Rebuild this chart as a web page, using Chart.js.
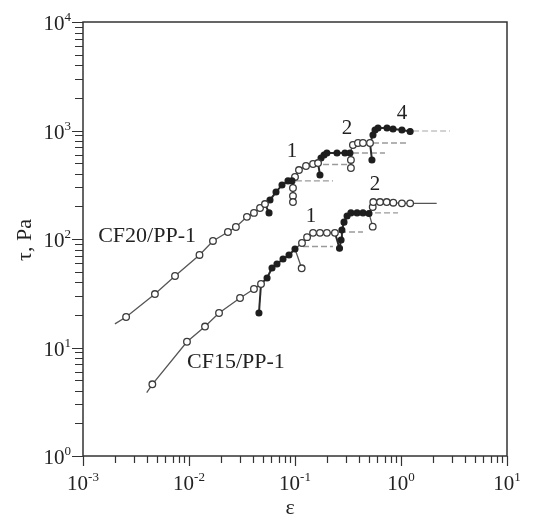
<!DOCTYPE html>
<html>
<head>
<meta charset="utf-8">
<style>
  html, body { margin: 0; padding: 0; background: #fff; }
  #chart { display: block; }
</style>
<script src="https://cdn.jsdelivr.net/npm/chart.js@4.4.7/dist/chart.umd.min.js"></script>
</head>
<body>
<canvas id="chart" width="537" height="519"></canvas>
<script>
// ε (strain) and τ (Pa) pairs, one array per segment.

// CF20/PP-1
const cf20Load = [[0.002, 16.5], [0.00255, 19.1], [0.00477, 31.1], [0.00738, 45.6], [0.01256, 71.3], [0.01683, 95.9], [0.0233, 116], [0.0277, 129], [0.0352, 160], [0.041, 174], [0.0468, 193], [0.0521, 210]];
const cf20Stop0 = [[0.0521, 210], [0.0569, 174]];
const cf20Step1 = [[0.0521, 210], [0.0581, 229], [0.0662, 271], [0.0754, 315], [0.0859, 343], [0.0937, 343]];
const cf20Stop1 = [[0.0937, 343], [0.0957, 295], [0.0957, 249], [0.0957, 219]];
const cf20Rest1 = [[0.102, 343], [0.228, 343]];
const cf20Step2 = [[0.0957, 343], [0.1, 373], [0.109, 432], [0.127, 471], [0.148, 491], [0.165, 501]];
const cf20Stop2 = [[0.165, 501], [0.172, 389]];
const cf20Rest2 = [[0.184, 486], [0.33, 486]];
const cf20Step3 = [[0.165, 501], [0.176, 558], [0.188, 594], [0.2, 621], [0.249, 621], [0.296, 621], [0.33, 621]];
const cf20Stop3 = [[0.33, 621], [0.337, 535], [0.337, 451]];
const cf20Rest3 = [[0.352, 621], [0.706, 621]];
const cf20Step4 = [[0.33, 621], [0.352, 735], [0.393, 767], [0.438, 767], [0.51, 767]];
const cf20Stop4 = [[0.51, 767], [0.532, 535]];
const cf20Rest4 = [[0.544, 767], [1.14, 767]];
const cf20Step5 = [[0.51, 767], [0.544, 909], [0.569, 1011], [0.607, 1054], [0.738, 1054], [0.841, 1032], [1.02, 1011], [1.22, 979]];
const cf20Rest5 = [[1.3, 990], [2.9, 990]];

// CF15/PP-1
const cf15Load = [[0.00399, 3.83], [0.00451, 4.58], [0.00957, 11.3], [0.01416, 15.6], [0.0192, 20.8], [0.0303, 28.6], [0.041, 34.6], [0.0478, 38.5]];
const cf15Stop0 = [[0.0478, 38.5], [0.0457, 20.8]];
const cf15Step1 = [[0.0478, 38.5], [0.0545, 43.7], [0.0607, 54.1], [0.0676, 58.9], [0.0771, 65.4], [0.0878, 71.3], [0.1, 80.9]];
const cf15Stop1 = [[0.1, 80.9], [0.1156, 53.7]];
const cf15Rest1 = [[0.119, 85.3], [0.228, 85.3]];
const cf15Step2 = [[0.1, 80.9], [0.1164, 91.9], [0.13, 104], [0.148, 114], [0.172, 114], [0.2, 114], [0.238, 114]];
const cf15Stop2 = [[0.238, 114], [0.263, 82.1]];
const cf15Rest2 = [[0.266, 116], [0.438, 116]];
const cf15Step3 = [[0.263, 82.1], [0.272, 98], [0.277, 121], [0.29, 143], [0.31, 163], [0.337, 174], [0.385, 174], [0.438, 174], [0.499, 172]];
const cf15Stop3 = [[0.499, 172], [0.541, 130]];
const cf15Rest3 = [[0.569, 174], [0.937, 174]];
const cf15Step4 = [[0.499, 172], [0.541, 197], [0.548, 219], [0.634, 219], [0.733, 219], [0.846, 216], [1.02, 213], [1.22, 213], [2.17, 213]];

// text placed on the plot, in data coordinates
const curveNotes = [
  ["CF20/PP-1", 0.00402, 107],
  ["CF15/PP-1", 0.0277, 7.35],
  ["1", 0.0937, 634],
  ["2", 0.31, 1054],
  ["4", 1.02, 1449],
  ["1", 0.1416, 160],
  ["2", 0.569, 321],
];

const xRange = [1e-3, 1e1];
const yRange = [1e0, 1e4];

const SERIF = '"Liberation Serif", "Times New Roman", serif';

function segment(points, kind, hidden = [0]) {
  const base = {
    data: points.map(([x, y]) => ({ x, y })),
    showLine: true,
    tension: 0,
    order: 1,
  };
  if (kind === "rest" || kind === "restLight") {
    return {
      ...base,
      order: 3,
      pointRadius: 0,
      borderColor: kind === "rest" ? "#9a9a9a" : "#c4c4c4",
      borderWidth: 1.4,
      borderDash: [6, 3],
    };
  }
  const open = kind === "open";
  return {
    ...base,
    pointStyle: "circle",
    pointRadius: points.map((_, i) => (hidden.includes(i) ? 0 : open ? 3.3 : 2.9)),
    pointBackgroundColor: open ? "#fff" : "#1e1e1e",
    pointBorderColor: open ? "#3a3a3a" : "#1e1e1e",
    pointBorderWidth: 1.3,
    borderColor: open ? "#555" : "#2a2a2a",
    borderWidth: open ? 1.3 : 2,
  };
}

function logTicks(min, max) {
  const out = [];
  for (let e = Math.floor(Math.log10(min)); e <= Math.ceil(Math.log10(max)); e++) {
    for (let m = 1; m <= 9; m++) {
      const v = m * Math.pow(10, e);
      if (v >= min * 0.999 && v <= max * 1.001) out.push({ value: v, major: m === 1, exp: e });
    }
  }
  return out;
}

function drawPower(ctx, exp, x, y, align) {
  const big = "21px " + SERIF;
  const small = "13px " + SERIF;
  ctx.font = big;
  const wBase = ctx.measureText("10").width;
  ctx.font = small;
  const sup = String(exp);
  const wSup = ctx.measureText(sup).width;
  const total = wBase + wSup;
  const left = align === "center" ? x - total / 2 : x - total;
  ctx.textAlign = "left";
  ctx.textBaseline = "alphabetic";
  ctx.font = big;
  ctx.fillText("10", left, y);
  ctx.font = small;
  ctx.fillText(sup, left + wBase, y - 9);
}

const axisDecor = {
  id: "axisDecor",
  afterDraw(chart) {
    const { ctx, chartArea: a, scales } = chart;
    const { x, y } = scales;
    ctx.save();
    ctx.strokeStyle = "#333";
    ctx.fillStyle = "#222";
    ctx.lineWidth = 1.5;
    ctx.strokeRect(a.left, a.top, a.right - a.left, a.bottom - a.top);

    ctx.lineWidth = 1.2;
    ctx.beginPath();
    logTicks(x.min, x.max).forEach((t) => {
      const px = Math.round(x.getPixelForValue(t.value)) + 0.5;
      ctx.moveTo(px, a.bottom);
      ctx.lineTo(px, a.bottom + (t.major ? 10 : 7));
    });
    logTicks(y.min, y.max).forEach((t) => {
      const py = Math.round(y.getPixelForValue(t.value)) + 0.5;
      ctx.moveTo(a.left, py);
      ctx.lineTo(a.left - (t.major ? 11 : 8), py);
    });
    ctx.stroke();

    logTicks(x.min, x.max).filter((t) => t.major).forEach((t) => {
      drawPower(ctx, t.exp, x.getPixelForValue(t.value), a.bottom + 34, "center");
    });
    logTicks(y.min, y.max).filter((t) => t.major).forEach((t) => {
      drawPower(ctx, t.exp, a.left - 12, y.getPixelForValue(t.value) + 8, "right");
    });

    ctx.font = "22px " + SERIF;
    ctx.textAlign = "center";
    ctx.textBaseline = "middle";
    ctx.fillText("ε", (a.left + a.right) / 2 - 5, a.bottom + 52);
    ctx.save();
    ctx.translate(25, (a.top + a.bottom) / 2 + 1);
    ctx.rotate(-Math.PI / 2);
    ctx.fillText("τ, Pa", 0, 0);
    ctx.restore();

    curveNotes.forEach(([text, vx, vy]) => {
      ctx.font = (text.length > 1 ? "22px " : "21px ") + SERIF;
      ctx.fillText(text, x.getPixelForValue(vx), y.getPixelForValue(vy));
    });
    ctx.restore();
  },
};

new Chart(document.getElementById("chart"), {
  type: "scatter",
  data: {
    datasets: [
      segment(cf20Load, "open"),
      segment(cf20Stop0, "filled"),
      segment(cf20Step1, "filled"),
      segment(cf20Stop1, "open"),
      segment(cf20Rest1, "rest"),
      segment(cf20Step2, "open"),
      segment(cf20Stop2, "filled"),
      segment(cf20Rest2, "rest"),
      segment(cf20Step3, "filled"),
      segment(cf20Stop3, "open"),
      segment(cf20Rest3, "rest"),
      segment(cf20Step4, "open"),
      segment(cf20Stop4, "filled"),
      segment(cf20Rest4, "rest"),
      segment(cf20Step5, "filled"),
      segment(cf20Rest5, "restLight"),
      segment(cf15Load, "open"),
      segment(cf15Stop0, "filled"),
      segment(cf15Step1, "filled"),
      segment(cf15Stop1, "open"),
      segment(cf15Rest1, "rest"),
      segment(cf15Step2, "open"),
      segment(cf15Stop2, "filled"),
      segment(cf15Rest2, "rest"),
      segment(cf15Step3, "filled"),
      segment(cf15Stop3, "open"),
      segment(cf15Rest3, "rest"),
      segment(cf15Step4, "open", [0, cf15Step4.length - 1]),
    ],
  },
  options: {
    responsive: false,
    animation: false,
    devicePixelRatio: 1,
    layout: { padding: { left: 83, right: 30, top: 22, bottom: 63 } },
    plugins: { legend: { display: false }, tooltip: { enabled: false } },
    scales: {
      x: { type: "logarithmic", min: xRange[0], max: xRange[1], display: false },
      y: { type: "logarithmic", min: yRange[0], max: yRange[1], display: false },
    },
  },
  plugins: [axisDecor],
});
</script>
</body>
</html>
